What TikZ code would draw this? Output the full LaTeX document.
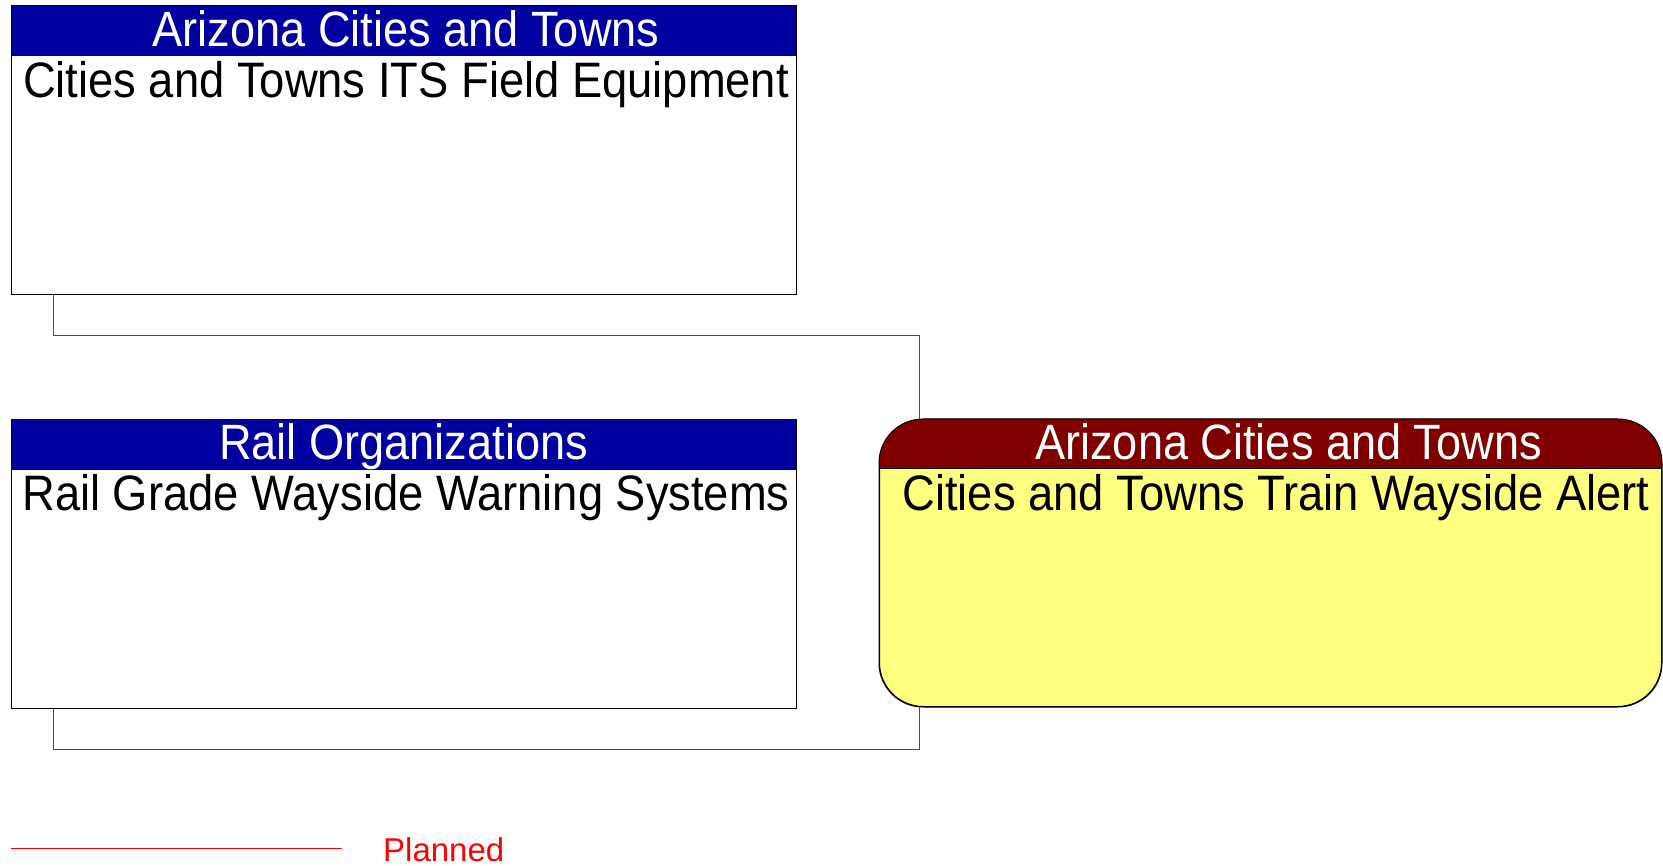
\documentclass[tikz,border=0pt]{standalone}
\usepackage{fontspec}
\setmainfont{Liberation Sans}
\newfontfamily\condfont[FakeStretch=0.91]{Liberation Sans}
\usetikzlibrary{calc}
\definecolor{hdrblue}{RGB}{0,0,160}
\definecolor{hdrred}{RGB}{128,0,0}
\definecolor{boxyellow}{RGB}{255,255,128}
\definecolor{planred}{RGB}{255,0,0}
\begin{document}
\begin{tikzpicture}[x=1pt,y=-1pt,
  sysbox/.style={draw=black, line width=1pt, inner sep=0pt, minimum width=785pt, minimum height=289pt, anchor=north west},
  hdrband/.style={draw=black, line width=1pt, inner sep=0pt, minimum width=785pt, minimum height=50pt, anchor=north west},
  hdrtext/.style={font=\condfont\fontsize{49.6}{55}\selectfont, text=white, inner sep=0pt, anchor=base},
  bodytext/.style={font=\condfont\fontsize{49.8}{55}\selectfont, text=black, inner sep=0pt, anchor=base},
  planned/.style={draw=planred, line width=1pt},
  legendtext/.style={font=\fontsize{33}{38}\selectfont, text=planred, inner sep=0pt, anchor=base west}
]
\useasboundingbox (0,0) rectangle (1663,866);

% Box 1: Cities and Towns ITS Field Equipment
\node[sysbox, fill=white] (fe) at (10.6,5.3) {};
\node[hdrband, fill=hdrblue] (feh) at (fe.north west) {};
\node[hdrtext] (fet) at (406,47) {Arizona Cities and Towns};
\node[bodytext] (feb) at (406,98) {Cities and Towns ITS Field Equipment};

% Box 2: Rail Grade Wayside Warning Systems
\node[sysbox, fill=white] (rw) at (10.6,419) {};
\node[hdrband, fill=hdrblue] (rwh) at (rw.north west) {};
\node[hdrtext] (rwt) at (403.6,459) {Rail Organizations};
\node[bodytext] (rwb) at (406,510.5) {Rail Grade Wayside Warning Systems};

% Box 3: Cities and Towns Train Wayside Alert
\node[draw=black, line width=1pt, fill=boxyellow, rounded corners=44pt, inner sep=0pt,
      minimum width=782pt, minimum height=287pt, anchor=north west] (wa) at (879,419) {};
\begin{scope}
  \clip (wa.north west) rectangle ($(wa.north east)+(0,49)$);
  \fill[hdrred, rounded corners=44pt] (wa.north west) rectangle (wa.south east);
\end{scope}
\draw[black, line width=1pt, rounded corners=44pt] (wa.north west) rectangle (wa.south east);
\draw[black, line width=1pt] ($(wa.north west)+(0,49)$) -- ($(wa.north east)+(0,49)$);
\node[hdrtext] (wat) at (1288.6,459) {Arizona Cities and Towns};
\node[bodytext] (wab) at (1276,510.5) {Cities and Towns Train Wayside Alert};

% Connectors
\coordinate (j1) at (53,336);
\coordinate (j2) at (919.5,336);
\coordinate (k1) at (53,749);
\coordinate (k2) at (919.5,749);
\draw[planned] (fe.south west -| j1) -- (j1) -- (j2) -- (j2 |- wa.north);
\draw[planned] (rw.south west -| k1) -- (k1) -- (k2) -- (k2 |- wa.south);

% Legend
\coordinate (l1) at (10.6,848.5);
\coordinate (l2) at (341.5,848.5);
\draw[planned] (l1) -- (l2);
\node[legendtext] (lt) at (383,861) {Planned};
\end{tikzpicture}
\end{document}
